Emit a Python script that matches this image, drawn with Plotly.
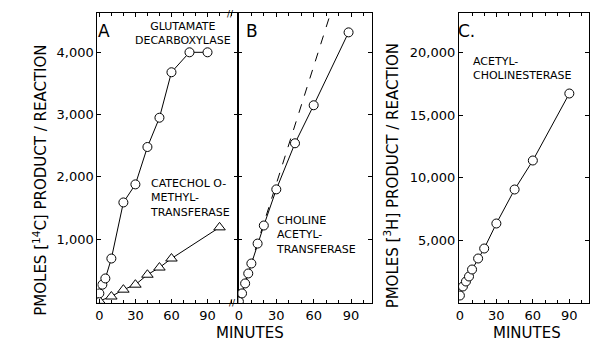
import plotly.graph_objects as go

W, H = 593, 342

# ---------------- data ----------------
# Panel A: glutamate decarboxylase (circles)
gad_t = [0, 2.5, 5, 10, 20, 30, 40, 50, 60, 75, 90]
gad_v = [130, 270, 370, 690, 1590, 1880, 2480, 2950, 3680, 4000, 4000]
# Panel A: catechol O-methyltransferase (triangles)
comt_t = [0, 10, 20, 30, 40, 50, 60, 100]
comt_v = [10, 80, 190, 270, 430, 545, 690, 1190]
# Panel B: choline acetyltransferase (circles) and dashed initial-rate line
chat_t = [0, 2.5, 5, 7.5, 10, 15, 20, 30, 45, 60, 88]
chat_v = [0, 130, 290, 450, 610, 930, 1220, 1800, 2540, 3150, 4320]
chat_lin_t = [0, 73.6]
chat_lin_v = [0, 4630]
# Panel C: acetylcholinesterase (circles)
ache_t = [0, 2.5, 5, 7.5, 10, 15, 20, 30, 45, 60, 90]
ache_v = [560, 1280, 1680, 2080, 2640, 3520, 4320, 6320, 9040, 11360, 16720]

x_tickvals = [0, 30, 60, 90]
x_ticktext = ["0", "30", "60", "90"]
a_tickvals = [1000, 2000, 3000, 4000]
a_ticktext = ["1,000", "2,000", "3,000", "4,000"]
c_tickvals = [5000, 10000, 15000, 20000]
c_ticktext = ["5,000", "10,000", "15,000", "20,000"]

# ---------------- layout helpers ----------------
def px(x):
    return x / W

def py(y):
    return 1 - y / H

FONT = "DejaVu Sans"
BLACK = "black"

circle = dict(symbol="circle", size=9, color="white", line=dict(color=BLACK, width=1))
tri = dict(symbol="triangle-up", size=10, color="white", line=dict(color=BLACK, width=1))
ln = dict(color=BLACK, width=1)

fig = go.Figure()
fig.add_trace(go.Scatter(x=comt_t, y=comt_v, mode="lines+markers", marker=tri, line=ln,
                         xaxis="x", yaxis="y", showlegend=False))
fig.add_trace(go.Scatter(x=gad_t, y=gad_v, mode="lines+markers", marker=circle, line=ln,
                         xaxis="x", yaxis="y", showlegend=False))
fig.add_trace(go.Scatter(x=chat_lin_t, y=chat_lin_v, mode="lines",
                         line=dict(color=BLACK, width=1, dash="dash"),
                         xaxis="x2", yaxis="y2", showlegend=False))
fig.add_trace(go.Scatter(x=chat_t, y=chat_v, mode="lines+markers", marker=circle, line=ln,
                         xaxis="x2", yaxis="y2", showlegend=False))
fig.add_trace(go.Scatter(x=ache_t, y=ache_v, mode="lines+markers", marker=circle, line=ln,
                         xaxis="x3", yaxis="y3", showlegend=False))

ydom = [py(303), py(13)]
tickfont = dict(family=FONT, size=13, color=BLACK)

def xax(dom, rng, anchor):
    return dict(domain=dom, range=rng, anchor=anchor, showline=True, linecolor=BLACK,
                linewidth=1, mirror="allticks", ticks="inside", ticklen=4, tickcolor=BLACK,
                tickvals=x_tickvals, ticktext=x_ticktext, tickfont=tickfont,
                showgrid=False, zeroline=False,
                minor=dict(dtick=10, tick0=0, ticks="inside", ticklen=3, tickcolor=BLACK,
                           showgrid=False))

def yax(rng, anchor, vals, texts, show=True):
    return dict(domain=ydom, range=rng, anchor=anchor, showline=True, linecolor=BLACK,
                linewidth=1, mirror="allticks", ticks="inside", ticklen=4, tickcolor=BLACK,
                tickvals=vals, ticktext=texts, showticklabels=show, tickfont=tickfont,
                showgrid=False, zeroline=False)

fig.update_layout(
    width=W, height=H, margin=dict(l=0, r=0, t=0, b=0),
    paper_bgcolor="white", plot_bgcolor="white",
    xaxis=xax([px(94), px(236)], [-1.65, 115.7], "y"),
    yaxis=yax([-24, 4631], "x", a_tickvals, a_ticktext),
    xaxis2=xax([px(236), px(370)], [-0.4, 106.4], "y2"),
    yaxis2=yax([-24, 4631], "x2", a_tickvals, a_ticktext, show=False),
    xaxis3=xax([px(458), px(589)], [-0.8, 106.2], "y3"),
    yaxis3=yax([-40, 23160], "x3", c_tickvals, c_ticktext),
)

def ann(x, y, text, size=11, xanchor="center", align="center", angle=0):
    fig.add_annotation(x=px(x), y=py(y), xref="paper", yref="paper", text=text,
                       showarrow=False, xanchor=xanchor, yanchor="middle", align=align,
                       textangle=angle, font=dict(family=FONT, size=size, color=BLACK))

ann(101, 31, "A", size=17)
ann(250, 31, "B", size=17)
ann(466, 31, "C.", size=17)
ann(180, 34, "GLUTAMATE<br>DECARBOXYLASE", size=11)
ann(145, 198, "CATECHOL O-<br>METHYL-<br>TRANSFERASE", size=11, xanchor="left", align="left")
ann(272, 235, "CHOLINE<br>ACETYL-<br>TRANSFERASE", size=11, xanchor="left", align="left")
ann(470, 68, "ACETYL-<br>CHOLINESTERASE", size=11, xanchor="left", align="left")
ann(248, 333, "MINUTES", size=15)
ann(527, 333, "MINUTES", size=15)
ann(36, 180, "PMOLES [<sup>14</sup>C] PRODUCT / REACTION", size=15, angle=-90)
ann(390, 176, "PMOLES [<sup>3</sup>H] PRODUCT / REACTION", size=15, angle=-90)
ann(228, 14, "//", size=9)
ann(230, 303, "//", size=9)

fig.write_html("out.html", config={"displayModeBar": False},
               post_script="document.body.style.margin='0';")
